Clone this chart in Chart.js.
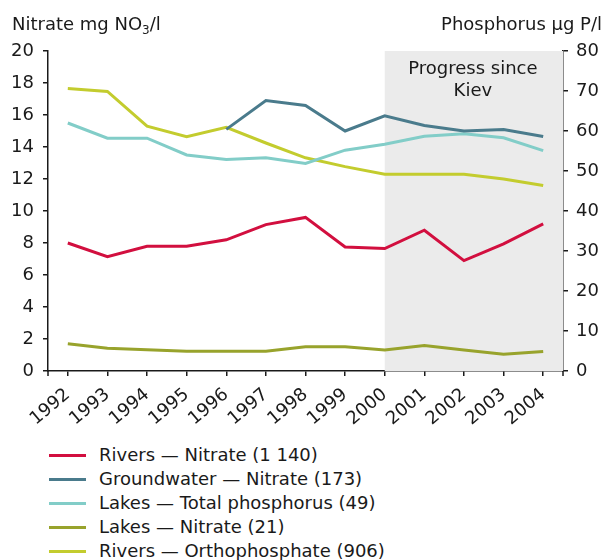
<!DOCTYPE html>
<html>
<head>
<meta charset="UTF-8">
<title>Nitrate and phosphorus</title>
<script src="https://cdn.jsdelivr.net/npm/chart.js@4/dist/chart.umd.min.js"></script>
<style>
    body { margin: 0; background: #fff; font-family: "DejaVu Sans", Verdana, sans-serif; color: #1a1a1a; }
    #wrap { position: relative; width: 604px; height: 430px; }
    #legend { list-style: none; margin: 0; padding: 13px 0 0 49px; font-size: 18px; }
    #legend li { height: 24px; line-height: 24px; display: flex; align-items: center; }
    #legend .sw { display: inline-block; width: 37px; height: 3px; margin-right: 13px; }
</style>
</head>
<body>
<div id="wrap"><canvas id="chart" width="604" height="430"></canvas></div>
<ul id="legend"></ul>
<script>
var years = ['1992','1993','1994','1995','1996','1997','1998','1999','2000','2001','2002','2003','2004'];

// nitrate, mg NO3/l (left axis)
var riversNitrate = [8.0, 7.15, 7.8, 7.8, 8.2, 9.15, 9.6, 7.75, 7.65, 8.8, 6.9, 7.95, 9.2];
var groundwaterNitrate = [null, null, null, null, 15.1, 16.9, 16.6, 15.0, 15.95, 15.35, 15.0, 15.1, 14.65];
var lakesNitrate = [1.7, 1.42, 1.33, 1.23, 1.23, 1.23, 1.52, 1.52, 1.31, 1.6, 1.31, 1.04, 1.22];

// phosphorus, ug P/l (right axis)
var lakesTotalP = [62.0, 58.2, 58.2, 54.0, 52.9, 53.3, 51.9, 55.2, 56.7, 58.7, 59.3, 58.3, 55.1];
var riversOrthoP = [70.6, 69.9, 61.2, 58.6, 60.9, 57.0, 53.3, 51.1, 49.2, 49.2, 49.2, 48.0, 46.4];

var legendNames = [
    'Rivers — Nitrate (1 140)',
    'Groundwater — Nitrate (173)',
    'Lakes — Total phosphorus (49)',
    'Lakes — Nitrate (21)',
    'Rivers — Orthophosphate (906)'
];
var colors = ['#d20f3f', '#4a7b8c', '#82cdc8', '#98a32c', '#c3cc2e'];

var FONT = '"DejaVu Sans", Verdana, sans-serif';
var INK = '#1a1a1a';

function line(i, data, axis) {
    return {
        label: legendNames[i],
        data: data,
        yAxisID: axis,
        borderColor: colors[i],
        backgroundColor: colors[i],
        borderWidth: 3,
        pointRadius: 0,
        tension: 0,
        spanGaps: false
    };
}

// grey band from 2000 onwards, plus axis titles
var extras = {
    id: 'extras',
    beforeDatasetsDraw: function (chart) {
        var ctx = chart.ctx, a = chart.chartArea;
        var x0 = chart.scales.x.getPixelForValue(8);
        ctx.save();
        ctx.fillStyle = '#ebebeb';
        ctx.fillRect(x0, a.top, a.right - x0, a.bottom - a.top);
        ctx.fillStyle = INK;
        ctx.font = '18px ' + FONT;
        ctx.textAlign = 'center';
        var cx = (x0 + a.right) / 2 - 1;
        ctx.fillText('Progress since', cx, 74);
        ctx.fillText('Kiev', cx, 96);
        ctx.restore();
    },
    afterDraw: function (chart) {
        var ctx = chart.ctx, a = chart.chartArea;
        ctx.save();
        ctx.fillStyle = INK;
        ctx.font = '18px ' + FONT;
        ctx.textAlign = 'left';
        var t = 'Nitrate mg NO';
        ctx.fillText(t, 12, 30);
        var w = ctx.measureText(t).width;
        ctx.font = '12px ' + FONT;
        ctx.fillText('3', 12 + w, 34);
        var w3 = ctx.measureText('3').width;
        ctx.font = '18px ' + FONT;
        ctx.fillText('/l', 12 + w + w3, 30);
        ctx.textAlign = 'right';
        ctx.fillText('Phosphorus \u00b5g P/l', 602, 30);
        // end ticks on the x axis
        ctx.strokeStyle = INK;
        ctx.lineWidth = 1.5;
        ctx.beginPath();
        ctx.moveTo(a.left, a.bottom); ctx.lineTo(a.left, a.bottom + 5);
        ctx.moveTo(a.right, a.bottom); ctx.lineTo(a.right, a.bottom + 5);
        ctx.stroke();
        ctx.restore();
    }
};

var tickFont = { family: FONT, size: 18 };

new Chart(document.getElementById('chart').getContext('2d'), {
    type: 'line',
    data: {
        labels: years,
        datasets: [
            line(0, riversNitrate, 'y'),
            line(1, groundwaterNitrate, 'y'),
            line(2, lakesTotalP, 'y1'),
            line(3, lakesNitrate, 'y'),
            line(4, riversOrthoP, 'y1')
        ]
    },
    options: {
        responsive: false,
        animation: false,
        layout: { padding: { top: 51, left: 0, right: 0, bottom: 0 } },
        plugins: { legend: { display: false }, tooltip: { enabled: false } },
        scales: {
            x: {
                offset: true,
                afterFit: function (s) { s.height = 59; },
                grid: { offset: false, drawOnChartArea: false, color: INK, lineWidth: 1.5, tickLength: 5 },
                border: { color: INK, width: 1.5 },
                ticks: { color: INK, font: tickFont, minRotation: 40, maxRotation: 40, padding: 8, autoSkip: false }
            },
            y: {
                position: 'left',
                min: 0, max: 20,
                afterFit: function (s) { s.width = 48; },
                grid: { drawOnChartArea: false, color: INK, lineWidth: 1.5, tickLength: 5 },
                border: { color: INK, width: 1.5 },
                ticks: { stepSize: 2, color: INK, font: tickFont, padding: 9 }
            },
            y1: {
                position: 'right',
                min: 0, max: 80,
                afterFit: function (s) { s.width = 41; },
                grid: { drawOnChartArea: false, color: INK, lineWidth: 1.5, tickLength: 5 },
                border: { color: INK, width: 1.5 },
                ticks: { stepSize: 10, color: INK, font: tickFont, padding: 8 }
            }
        }
    },
    plugins: [extras]
});

var ul = document.getElementById('legend');
legendNames.forEach(function (name, i) {
    var li = document.createElement('li');
    var sw = document.createElement('span');
    sw.className = 'sw';
    sw.style.background = colors[i];
    li.appendChild(sw);
    li.appendChild(document.createTextNode(name));
    ul.appendChild(li);
});
</script>
</body>
</html>
